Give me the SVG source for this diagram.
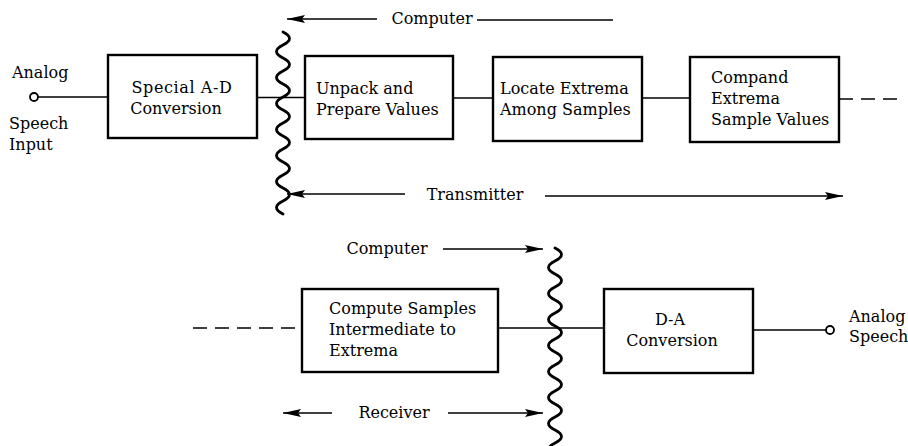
<svg xmlns="http://www.w3.org/2000/svg" width="908" height="446" viewBox="0 0 908 446">
  <style>
    text { font-family: "DejaVu Serif", "Liberation Serif", serif; font-size: 16px; fill: #000; }
    .mid { text-anchor: middle; }
    .box { fill: #fff; stroke: #000; stroke-width: 2.4; }
    .wire { fill: none; stroke: #000; stroke-width: 1.7; }
    .dash { fill: none; stroke: #000; stroke-width: 1.7; stroke-dasharray: 14 8; }
    .wave { fill: none; stroke: #000; stroke-width: 2.8; stroke-linecap: round; }
    .term { fill: #fff; stroke: #000; stroke-width: 1.8; }
  </style>
  <defs>
    <marker id="arrow" viewBox="0 0 18 9" refX="18" refY="4.5" markerWidth="18" markerHeight="9" markerUnits="userSpaceOnUse" orient="auto">
      <path d="M0,0.5 L18,4.5 L0,8.5 L3,4.5 Z" fill="#000"/>
    </marker>
  </defs>

  <!-- signal lines and direction arrows -->
  <g id="connectors">
    <line class="wire" x1="38" y1="97" x2="108" y2="97"/>
    <line class="wire" x1="257" y1="97.5" x2="305" y2="97.5"/>
    <line class="wire" x1="453" y1="98" x2="493" y2="98"/>
    <line class="wire" x1="642" y1="98" x2="690" y2="98"/>
    <line class="dash" x1="839" y1="99" x2="902" y2="99"/>

    <line class="dash" x1="193" y1="328" x2="302" y2="328"/>
    <line class="wire" x1="498" y1="328" x2="604" y2="328"/>
    <line class="wire" x1="753" y1="330" x2="826" y2="330"/>

    <!-- computer / transmitter boundary -->
    <line class="wire" x1="377" y1="19" x2="287" y2="19" marker-end="url(#arrow)"/>
    <line class="wire" x1="477" y1="20" x2="613" y2="20"/>
    <line class="wire" x1="405" y1="194" x2="287" y2="194" marker-end="url(#arrow)"/>
    <line class="wire" x1="545" y1="196" x2="843" y2="196" marker-end="url(#arrow)"/>

    <!-- computer / receiver boundary -->
    <line class="wire" x1="443" y1="249" x2="543" y2="249" marker-end="url(#arrow)"/>
    <line class="wire" x1="332" y1="413" x2="283" y2="413" marker-end="url(#arrow)"/>
    <line class="wire" x1="448" y1="413" x2="543" y2="413" marker-end="url(#arrow)"/>

    <!-- wavy interface lines -->
    <path class="wave" d="M283,32 q13,6.5 0,13 t0,13 t0,13 t0,13 t0,13 t0,13 t0,13 t0,13 t0,13 t0,13 t0,13 t0,13 t0,13 t0,13"/>
    <path class="wave" d="M555,248 q13,6.5 0,13 t0,13 t0,13 t0,13 t0,13 t0,13 t0,13 t0,13 t0,13 t0,13 t0,13 t0,13 t0,13 t0,13 t0,13 t0,13"/>
  </g>

  <text x="432" y="24" class="mid">Computer</text>
  <text x="475" y="200" class="mid">Transmitter</text>
  <text x="387" y="254" class="mid">Computer</text>
  <text x="394" y="418" class="mid">Receiver</text>

  <g id="speech-in">
    <circle class="term" cx="34" cy="97" r="4"/>
    <text x="12" y="78">Analog</text>
    <text x="9" y="129">Speech</text>
    <text x="9" y="150">Input</text>
  </g>

  <g id="ad-conversion">
    <rect class="box" x="108" y="55" width="149" height="83"/>
    <text x="182" y="93" class="mid" letter-spacing="0.6">Special A-D</text>
    <text x="176" y="114" class="mid">Conversion</text>
  </g>

  <g id="unpack">
    <rect class="box" x="305" y="56" width="148" height="83"/>
    <text x="316" y="94">Unpack and</text>
    <text x="316" y="115">Prepare Values</text>
  </g>

  <g id="locate-extrema">
    <rect class="box" x="493" y="57" width="149" height="84"/>
    <text x="500" y="94">Locate Extrema</text>
    <text x="500" y="115">Among Samples</text>
  </g>

  <g id="compand">
    <rect class="box" x="690" y="57" width="149" height="85"/>
    <text x="711" y="83">Compand</text>
    <text x="711" y="104">Extrema</text>
    <text x="711" y="125">Sample Values</text>
  </g>

  <g id="compute-samples">
    <rect class="box" x="302" y="289" width="196" height="83"/>
    <text x="329" y="314">Compute Samples</text>
    <text x="329" y="335">Intermediate to</text>
    <text x="329" y="356">Extrema</text>
  </g>

  <g id="da-conversion">
    <rect class="box" x="604" y="289" width="149" height="84"/>
    <text x="670" y="325" class="mid">D-A</text>
    <text x="672" y="346" class="mid">Conversion</text>
  </g>

  <g id="speech-out">
    <circle class="term" cx="830" cy="330" r="4"/>
    <text x="849" y="322">Analog</text>
    <text x="849" y="342">Speech</text>
  </g>
</svg>
